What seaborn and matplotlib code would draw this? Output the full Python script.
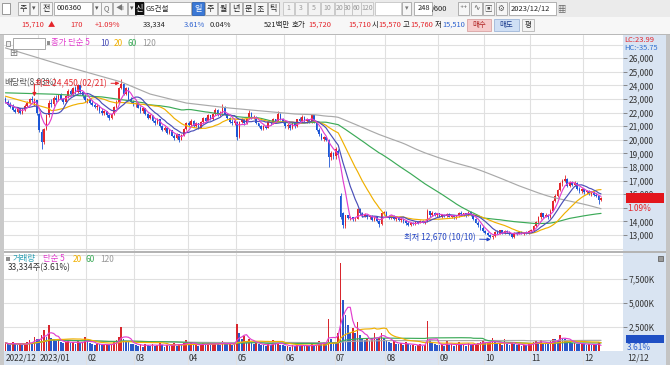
import numpy as np
import pandas as pd
import matplotlib
matplotlib.use("Agg")
import matplotlib.pyplot as plt
from matplotlib.patches import Rectangle
import seaborn as sns

sns.set_theme(style="white")
plt.rcParams['font.family'] = ['Noto Sans CJK KR', 'DejaVu Sans']
plt.rcParams['axes.unicode_minus'] = False

# ---------------- data ----------------
start_date = "2022-12-12"
end_date = "2023-12-12"
krx_holidays = ["2022-12-30", "2023-01-23", "2023-01-24", "2023-03-01", "2023-05-01",
                "2023-05-05", "2023-05-29", "2023-06-06", "2023-08-15", "2023-09-28",
                "2023-09-29", "2023-10-02", "2023-10-03", "2023-10-09"]
ex_div_date = "2022-12-28"

opens = (
    [23000,22750,22600,22400,22200,22050,22300,22000,22200,22500,22700,23000,22600,22900] +
    [21900,20600,19850,20800,21800,22700,22600,23100,22900,23300,23000,22750,23200,23600,23350,23800,23500,24000,23500,23200] +
    [22900,23000,22700,22550,22400,22500,22100,21950,22100,21800,21600,21900,22400,22800,23800,24100,23400,23800,23000,22800] +
    [22600,22700,22350,22100,22300,21900,21600,21800,21350,21200,21500,21000,20750,20900,20500,20700,20300,20100,20400,20000,20350,20800] +
    [21200,21050,21400,21000,21200,20900,21300,21600,21400,21800,21500,21900,22200,21800,22000,22400,21900,21600,21300,21200] +
    [21300,20200,21300,21500,21200,21600,22000,21600,21700,21200,21000,20800,21000,20900,21300,21200,21500,21400,21900,21500] +
    [21300,21000,21100,20850,21200,21000,21500,21400,21700,21400,21500,21300,21800,21250,20700,20400,20050,20200,20000,18700,19000] +
    [18800,19200,15900,14600,13650,14450,14250,14300,14150,14200,14900,14600,14400,14500,14300,14400,14100,14300,14000,13800,14600] +
    [14700,14400,14300,14400,14200,14300,14100,14200,14000,13850,13750,13900,13800,13950,13900,14050,13950,14000,14750,14450,14650,14500] +
    [14600,14350,14450,14400,14550,14350,14450,14300,14400,14650,14550,14600,14450,14700,14450,14150,13900,13700,13500] +
    [13300,13150,13000,12850,12900,13200,13100,13350,13150,13300,13200,13050,12850,13150,13100,13250,13100,13200,13150] +
    [13300,13350,13650,13950,14300,14600,14350,14500,14300,14800,15500,15900,16300,16800,16950,17100,16600,16900,16700,16850,16400,16200] +
    [16350,16150,16250,16050,16100,15950,15900,15570]
)
highs = (
    [23150,22900,22800,22600,22350,22400,22350,22300,22600,22850,23100,23200,23100,22950] +
    [22000,20800,20900,21900,22900,23000,23200,23300,23400,23450,23100,23300,23700,23750,23900,23950,24100,24050,23600,23400] +
    [23100,23050,22900,22700,22600,22550,22300,22200,22150,21900,22000,22450,22900,23900,24450,24200,23900,23850,23150,22950] +
    [22800,22750,22500,22400,22350,22000,21900,21850,21500,21600,21550,21100,21000,20950,20800,20750,20400,20500,20450,20450,20900,21300] +
    [21350,21500,21450,21300,21250,21400,21700,21650,21900,21850,22000,22300,22250,22100,22600,22450,21950,21700,21500,21500] +
    [21350,21400,21600,21550,21700,22200,22050,21800,21750,21250,21100,21100,21050,21350,21350,21600,21550,22100,21950,21600] +
    [21400,21200,21150,21300,21250,21550,21700,21800,21750,21600,21550,21900,21850,21300,20900,20500,20300,20300,20050,19200,19100] +
    [19500,19300,16100,14700,14500,14500,14400,14350,14300,15000,14950,14700,14600,14550,14450,14450,14400,14350,14100,14700,14800] +
    [14750,14500,14450,14450,14350,14350,14250,14250,14100,14000,13950,13950,14000,14050,14100,14100,14050,14900,14800,14750,14700,14650] +
    [14650,14500,14550,14600,14600,14500,14500,14450,14700,14800,14650,14650,14750,14750,14500,14250,14000,13800,13650] +
    [13400,13250,13100,13000,13300,13350,13400,13400,13350,13400,13300,13150,13200,13250,13300,13300,13250,13300,13350] +
    [13450,13700,14050,14400,14700,14650,14600,14550,14900,15600,16000,16400,16900,17100,17400,17200,17000,17000,16950,16900,16500,16450] +
    [16400,16300,16300,16200,16200,16100,15950,15760]
)
lows = (
    [22700,22450,22300,22100,21950,21950,21900,21900,22150,22400,22600,22800,22500,21800] +
    [20600,19350,19700,20700,21700,22400,22500,22800,22850,22900,22600,22700,23100,23250,23300,23400,23450,23400,23100,22800] +
    [22700,22600,22500,22300,22200,22000,21850,21800,21700,21450,21550,21850,22300,22700,23700,23300,23300,22900,22700,22500] +
    [22400,22300,22000,22000,21800,21500,21500,21300,21100,21150,20950,20650,20650,20450,20400,20250,20000,20050,19850,19950,20300,20750] +
    [20950,21000,20950,20950,20800,20850,21250,21300,21350,21450,21450,21850,21750,21750,21950,21850,21500,21250,21100,21100] +
    [19950,20150,21200,21100,21150,21550,21550,21500,21150,20950,20700,20750,20800,20850,21100,21150,21300,21350,21450,21250] +
    [20900,20800,20750,20800,20900,20950,21300,21350,21300,21200,21200,21250,21200,20650,20300,19950,19900,19900,18000,18500,18600] +
    [18600,18700,14200,13500,13550,14150,14100,14050,14050,14150,14500,14300,14300,14200,14150,14050,14000,13950,13600,13750,14450] +
    [14350,14200,14150,14100,14050,14000,13950,13900,13750,13650,13650,13700,13700,13800,13850,13850,13800,13950,14350,14400,14400,14350] +
    [14300,14250,14300,14350,14300,14250,14200,14200,14350,14500,14400,14350,14400,14400,14100,13850,13600,13400,13250] +
    [13050,12900,12750,12670,12850,13050,13050,13100,13100,13150,13000,12800,12800,13000,13050,13050,13000,13100,13100] +
    [13200,13300,13600,13900,14200,14250,14300,14200,14250,14750,15400,15800,16200,16600,16900,16500,16500,16600,16600,16300,16100,16100] +
    [16050,16000,15950,15900,15850,15800,15250,15510]
)
closes = (
    [22750,22550,22400,22200,22050,22300,22000,22200,22500,22700,23000,22900,22950,21950] +
    [20700,19800,20800,21800,22700,22600,23100,22900,23300,23000,22750,23200,23600,23350,23800,23500,24000,23500,23200,22900] +
    [23000,22700,22550,22400,22500,22100,21950,22100,21800,21600,21900,22400,22800,23800,24100,23400,23800,23000,22800,22600] +
    [22700,22350,22100,22300,21900,21600,21800,21350,21200,21500,21000,20750,20900,20500,20700,20300,20100,20400,20000,20350,20800,21200] +
    [21050,21400,21000,21200,20900,21300,21600,21400,21800,21500,21900,22200,21800,22000,22400,21900,21600,21300,21200,21400] +
    [20200,21300,21500,21200,21600,22000,21600,21700,21200,21000,20800,21000,20900,21300,21200,21500,21400,21900,21500,21300] +
    [21000,21100,20850,21200,21000,21500,21400,21700,21400,21500,21300,21800,21250,20700,20400,20050,20200,20000,18700,19000,18800] +
    [19300,18900,14350,13750,14450,14250,14300,14150,14200,14900,14600,14400,14500,14300,14400,14100,14300,14000,13800,14600,14700] +
    [14400,14300,14400,14200,14300,14100,14200,14000,13850,13750,13900,13800,13950,13900,14050,13950,14000,14750,14450,14650,14500,14600] +
    [14350,14450,14400,14550,14350,14450,14300,14400,14650,14550,14600,14450,14700,14450,14150,13900,13700,13500,13300] +
    [13150,13000,12850,12900,13200,13100,13350,13150,13300,13200,13050,12850,13150,13100,13250,13100,13200,13150,13300] +
    [13350,13650,13950,14300,14600,14350,14500,14300,14800,15500,15900,16300,16800,16950,17100,16600,16900,16700,16850,16400,16200,16350] +
    [16150,16250,16050,16100,15950,15900,15540,15710]
)
volumes_k = (
    [850,700,650,900,750,600,800,650,700,950,1100,800,1450,1300] +
    [1200,1650,2200,1500,2750,1400,1300,1000,1150,900,800,950,1050,850,900,750,1000,800,900,1450] +
    [1000,800,700,650,750,700,600,650,700,650,750,900,1100,1500,2450,1300,1000,900,750,700] +
    [650,500,700,450,750,600,550,700,500,650,800,600,450,650,550,700,800,500,750,600,850,1150] +
    [700,800,600,650,550,750,850,600,800,650,750,900,700,650,1000,800,700,750,650,700] +
    [2800,1900,1250,1550,1000,1250,900,750,800,700,650,600,550,700,600,1100,700,850,650,600] +
    [500,550,450,600,500,650,550,600,500,550,500,700,600,650,1040,800,900,750,3300,1200,900] +
    [800,1870,9150,5300,3750,2700,1870,2400,1900,3000,1700,1300,1100,1200,1000,1400,1900,1300,1500,1900,1400] +
    [1100,900,800,1050,750,700,800,650,900,700,600,650,550,600,700,550,600,3100,1100,800,700,650] +
    [600,750,550,1000,600,700,500,650,900,600,750,550,800,600,700,750,850,940,1000] +
    [800,850,950,1350,900,700,800,600,1250,700,650,900,750,600,700,550,650,600,700] +
    [750,900,1000,950,1100,800,750,700,1000,1250,1200,1100,1650,1400,1300,1000,900,800,850,750,700,800] +
    [700,650,750,600,700,650,923,33.334]
)
ma20_head_idx = [0, 8, 18]
ma20_head_val = [23200, 22800, 22300]
ma60_head_idx = [0, 20, 40, 58]
ma60_head_val = [23450, 23350, 23150, 22700]
ma120_head_idx = [0, 26, 48, 60, 75, 93, 115]
ma120_head_val = [26750, 25350, 24250, 23360, 22700, 22330, 21970]

price_ticks = list(range(13000, 27000, 1000))
vol_ticks_k = [2500, 5000, 7500]

# ---------------- frame ----------------
dates = pd.bdate_range(start_date, end_date)
dates = dates[~dates.isin(pd.to_datetime(krx_holidays))]
n = len(dates)
assert n == len(opens) == len(highs) == len(lows) == len(closes) == len(volumes_k) == 248
df = pd.DataFrame({"date": dates, "idx": np.arange(n), "open": opens, "high": highs,
                   "low": lows, "close": closes, "vol": volumes_k})

RED, BLUE = '#e4252b', '#1c55d6'
VRED, VBLUE = '#d8262d', '#2a57c9'
C5, C10, C20, C60, C120 = '#e23fcf', '#4a4fb8', '#f0b000', '#3caa58', '#a9a9a9'
GRID = '#e0e0e0'
PANEL = '#d9e4f2'
W, H = 670, 365
HS = 5.4   # header text size

fig = plt.figure(figsize=(6.7, 3.65), dpi=100)
fig.patch.set_facecolor('#e9e9e9')

def fr(x0, y0, x1, y1):
    return [x0 / W, 1 - y1 / H, (x1 - x0) / W, (y1 - y0) / H]

bg = fig.add_axes([0, 0, 1, 1], zorder=0)
bg.set_xlim(0, W); bg.set_ylim(H, 0); bg.axis('off')
ax_p = fig.add_axes(fr(4, 35, 623, 251), zorder=2)
ax_v = fig.add_axes(fr(4, 253, 623, 351), zorder=2)
fg = fig.add_axes([0, 0, 1, 1], zorder=5)
fg.set_xlim(0, W); fg.set_ylim(H, 0); fg.axis('off')

def rect(x0, y0, x1, y1, fc, ec='none', lw=0.6, ax=bg, z=1):
    ax.add_patch(Rectangle((x0, y0), x1 - x0, y1 - y0, facecolor=fc, edgecolor=ec,
                           linewidth=lw, zorder=z))

def txt(x, y, s, color='#222222', size=6, ha='left', ax=fg, **kw):
    return ax.text(x, y, s, color=color, fontsize=size, ha=ha, va='center', **kw)

# ---- background panels
rect(0, 0, W, 17, '#ebebeb')
rect(0, 17, W, 34, '#f7f7f7')
rect(0, 33.5, W, 35, '#b9b9b9')
rect(0, 35, 4, H, '#c9c9c9')
rect(4, 35, 623, 351, 'white')
rect(623, 35, 666, H, PANEL)
rect(4, 351, 623, H, PANEL)
rect(666, 35, W, H, '#c4c4c4')
rect(4, 251, 666, 253, '#b4b4b4')
rect(4, 350.6, 623, 351.4, '#aab6c6')
rect(622.6, 35, 623.4, H, '#aab6c6')

# ---- toolbar row 1
rect(2, 3, 10, 14, 'white', '#8a8a8a')
for (x0, x1, s) in [(18, 29, '주'), (40, 52, '전')]:
    rect(x0, 2, x1, 15, '#f6f6f6', '#a5a5a5'); txt((x0 + x1) / 2, 8.5, s, ha='center', size=5.8)
for x0 in [30, 93, 128]:
    rect(x0, 2, x0 + 8, 15, '#f6f6f6', '#a5a5a5'); txt(x0 + 4, 8.5, '▾', ha='center', size=5, color='#555')
rect(54, 2, 92, 15, 'white', '#a5a5a5'); txt(57, 8.5, '006360', size=HS)
rect(101, 2, 112, 15, '#f6f6f6', '#a5a5a5'); txt(106.5, 8.5, 'Q', ha='center', color='#666', size=HS)
rect(113, 2, 127, 15, '#f6f6f6', '#a5a5a5'); txt(120, 8.5, '◀ı', ha='center', color='#777', size=5)
rect(135, 2, 144, 15, '#111111'); txt(139.5, 8.5, '신', ha='center', color='white', size=5.8)
rect(144, 2, 191, 15, 'white', '#a5a5a5'); txt(146, 8.5, 'GS건설', size=HS)
rect(192, 2, 204, 15, '#3a78d6', '#2b5fb0'); txt(198, 8.5, '일', ha='center', color='white', size=5.8)
for k, s in enumerate(['주', '월', '년', '분', '초', '틱']):
    x0 = 205 + k * 12.5
    rect(x0, 2, x0 + 11.5, 15, '#f6f6f6', '#a5a5a5'); txt(x0 + 5.75, 8.5, s, ha='center', size=5.8)
for (x0, x1, s) in [(283, 294, '1'), (295, 307, '3'), (308, 320, '5'), (321, 334, '10'),
                    (335, 344, '20'), (344, 352, '30'), (352, 361, '60'), (361, 373, '120')]:
    rect(x0, 2, x1, 15, '#f3f3f3', '#c4c4c4'); txt((x0 + x1) / 2, 8.5, s, ha='center', color='#9a9a9a', size=5)
rect(375, 2, 401, 15, 'white', '#c4c4c4')
rect(402, 2, 411, 15, '#f6f6f6', '#a5a5a5'); txt(406.5, 8.5, '▾', ha='center', size=5, color='#777')
rect(414, 2, 432, 15, 'white', '#a5a5a5'); txt(430.5, 8.5, '248', ha='right', size=HS)
txt(432, 8.5, '/600', size=HS)
for k, s in enumerate(['⁺⁺', '∿', '▣', '⚙']):
    x0 = 458 + k * 12.5
    rect(x0, 2, x0 + 11, 15, '#f6f6f6', '#a5a5a5'); txt(x0 + 5.5, 8.5, s, ha='center', color='#555', size=5.5)
rect(509, 2, 556, 15, 'white', '#a5a5a5'); txt(511, 8.5, '2023/12/12', size=HS)
txt(561, 8.5, '▦', ha='center', color='#666', size=6)

# ---- toolbar row 2
txt(21, 25, '15,710', color=RED, size=HS); txt(48, 25, '▲', color=RED, size=5.2)
txt(83, 25, '170', color=RED, ha='right', size=HS)
txt(120, 25, '+1.09%', color=RED, ha='right', size=HS)
txt(166, 25, '33,334', ha='right', size=HS)
txt(205, 25, '3.61%', color='#2f63d0', ha='right', size=HS)
txt(231, 25, '0.04%', ha='right', size=HS)
txt(290, 25, '521백만', ha='right', size=HS)
txt(292, 25, '호가', size=HS)
txt(308, 25, '15,720', color=RED, size=HS)
txt(348, 25, '15,710', color=RED, size=HS)
txt(371.5, 25, '시', size=HS); txt(378.5, 25, '15,570', color=RED, size=HS)
txt(403, 25, '고', size=HS); txt(410.5, 25, '15,760', color=RED, size=HS)
txt(435, 25, '저', size=HS); txt(442.5, 25, '15,510', color='#2f63d0', size=HS)
rect(467, 19, 491, 31, '#f6cccc', '#d9a3a3'); txt(479, 25, '매수', ha='center', color='#b02222', size=HS)
rect(494, 19, 519, 31, '#cfdff5', '#9fb6d8'); txt(506.5, 25, '매도', ha='center', color='#1f3f8f', size=HS)
rect(522, 19, 534, 31, '#f3f3f3', '#b5b5b5'); txt(528, 25, '평', ha='center', size=HS)

# ---------------- price panel ----------------
for ax in (ax_p, ax_v):
    ax.set_facecolor('white')
    for sp in ax.spines.values():
        sp.set_visible(False)

month = df['date'].dt.to_period('M')
starts = [0] + list(np.where(month.values[1:] != month.values[:-1])[0] + 1)
for s in starts[1:]:
    ax_p.axvline(s - 0.5, color=GRID, lw=0.8, zorder=0)
    ax_v.axvline(s - 0.5, ymin=-0.145, ymax=1, color=GRID, lw=0.8, zorder=0, clip_on=False)
for v in range(12000, 28000, 1000):
    ax_p.axhline(v, color=GRID, lw=0.8, zorder=0)

up = df['close'] >= df['open']
cc = np.where(up, RED, BLUE)
ax_p.vlines(df['idx'], df['low'], df['high'], colors=cc, linewidth=0.6, zorder=2)
body = (df['close'] - df['open']).to_numpy(dtype=float)
body = np.where(np.abs(body) < 60, np.where(body >= 0, 60, -60), body)
ax_p.bar(df['idx'], body, bottom=df['open'], width=0.68, color=cc, linewidth=0, zorder=2)

close_s = df['close'].astype(float)

def ma_frame(window, head_idx=None, head_val=None):
    if head_idx is None:
        comp = close_s.rolling(window, min_periods=1).mean()
        return pd.DataFrame({'idx': df['idx'], 'value': comp})
    comp = close_s.rolling(window).mean()
    tail = pd.DataFrame({'idx': df['idx'], 'value': comp}).dropna()
    head = pd.DataFrame({'idx': head_idx, 'value': head_val})
    return pd.concat([head, tail], ignore_index=True)

for frame, col in [(ma_frame(120, ma120_head_idx, ma120_head_val), C120),
                   (ma_frame(60, ma60_head_idx, ma60_head_val), C60),
                   (ma_frame(20, ma20_head_idx, ma20_head_val), C20),
                   (ma_frame(10), C10),
                   (ma_frame(5), C5)]:
    sns.lineplot(data=frame, x='idx', y='value', ax=ax_p, color=col, linewidth=0.85,
                 estimator=None, zorder=3, legend=False)

xl = (-0.6, n - 0.5 + 8.6)
ax_p.set_xlim(xl)
ax_p.set_ylim(11824, 27700)
ax_p.set_xticks([])
ax_p.yaxis.tick_right()
ax_p.set_yticks(price_ticks)
last_close = df['close'].iloc[-1]
# the label hidden under the "1.09%" change tag in the right panel is left blank
ax_p.set_yticklabels(['' if 500 < last_close - v < 1000 else f"{v:,}" for v in price_ticks])
ax_p.tick_params(axis='y', length=3, width=0.6, color='#777777', pad=1, labelsize=6,
                 labelcolor='#333333', direction='out')
ax_p.set_xlabel(''); ax_p.set_ylabel('')

# annotations
ih = int(np.argmax(df['high'])); hmax = int(df['high'][ih])
ax_p.annotate(f"최고 {hmax:,} ({df['date'][ih]:%m/%d})", xy=(ih - 0.7, hmax - 300),
              xytext=(-9, 0), textcoords='offset points', ha='right', va='center',
              fontsize=6, color=RED, zorder=6,
              arrowprops=dict(arrowstyle='-|>', color=RED, lw=0.7, mutation_scale=5,
                              shrinkA=0.5, shrinkB=0))
il = int(np.argmin(df['low'])); lmin = int(df['low'][il])
ax_p.annotate(f"최저 {lmin:,} ({df['date'][il]:%m/%d})", xy=(il - 0.7, lmin),
              xytext=(-11, 1), textcoords='offset points', ha='right', va='center',
              fontsize=6, color='#2546c4', zorder=6,
              arrowprops=dict(arrowstyle='-|>', color='#2546c4', lw=0.7, mutation_scale=5,
                              shrinkA=0.5, shrinkB=0))
ie = int(np.where(df['date'] == pd.Timestamp(ex_div_date))[0][0])
ax_p.annotate('', xy=(ie, df['high'][ie] + 80), xytext=(0, 9), textcoords='offset points',
              arrowprops=dict(arrowstyle='-|>', color=RED, lw=0.8, mutation_scale=5,
                              shrinkA=0, shrinkB=0), zorder=5)
ax_p.annotate('배당락(8.03%)', xy=(ie, df['high'][ie]), xytext=(-3, 11),
              textcoords='offset points', ha='center', va='center', fontsize=6,
              color='#555555', zorder=5)

# ---------------- volume panel ----------------
vol = df['vol'].astype(float)
vc = np.where(vol.diff().fillna(1) > 0, VRED, VBLUE)
for v in [2500, 5000, 7500, 10000]:
    ax_v.axhline(v, color=GRID, lw=0.8, zorder=0)
ax_v.bar(df['idx'], vol, width=0.72, color=vc, linewidth=0, zorder=2)
for w, col in [(120, C120), (60, C60), (20, C20), (5, C5)]:
    fv = pd.DataFrame({'idx': df['idx'], 'value': vol.rolling(w, min_periods=1).mean()})
    sns.lineplot(data=fv, x='idx', y='value', ax=ax_v, color=col, linewidth=0.85,
                 estimator=None, zorder=3, legend=False)
ax_v.set_xlim(xl)
ax_v.set_ylim(0, 10210)
ax_v.set_xticks([])
ax_v.yaxis.tick_right()
ax_v.set_yticks(vol_ticks_k)
ax_v.set_yticklabels([f"{v:,}K" for v in vol_ticks_k])
ax_v.tick_params(axis='y', length=3, width=0.6, color='#777777', pad=1, labelsize=6,
                 labelcolor='#333333', direction='out')
ax_v.set_xlabel(''); ax_v.set_ylabel('')

for s in starts:
    d = df['date'][s]
    lab = f"{d.year}/{d.month:02d}" if (s == 0 or d.month == 1) else f"{d.month:02d}"
    ax_v.text(s - 0.5 + 0.6, -0.072, lab, transform=ax_v.get_xaxis_transform(),
              ha='left', va='center', fontsize=6, color='#333333')

# ---------------- legends & right-panel labels ----------------
rect(5.5, 40.5, 10, 45.5, '#eeeeee', '#8a8a8a', ax=fg, z=5)
rect(12.5, 37.5, 45, 48.5, 'white', '#9a9a9a', ax=fg, z=5)
txt(14.5, 43, 'GS건설', color='#333333', size=5.5)
rect(46.5, 41.2, 49.5, 44.8, '#8f8f8f', ax=fg, z=5)
txt(51, 43, '종가 단순 5', color=C5)
txt(100, 43, '10', color=C10)
txt(114, 43, '20', color=C20)
txt(127, 43, '60', color=C60)
txt(142, 43, '120', color='#999999')
txt(13.5, 53.5, '⊞', color='#777777', size=7, ha='center', family='DejaVu Sans')

rect(5.5, 257, 9.5, 261, '#8f8f8f', ax=fg, z=5)
txt(13, 259, '거래량', color='#2aa0b4')
txt(43, 259, '단순 5', color=C5)
txt(73, 259, '20', color=C20)
txt(86, 259, '60', color=C60)
txt(100, 259, '120', color='#999999')
txt(8, 268, '33,334주(3.61%)', color='#333333')

txt(624, 40.3, 'LC:23.99', color=RED, size=5.4)
txt(624, 48.3, 'HC:-35.75', color='#2f6fd0', size=5.4)

y_last = H - ax_p.transData.transform((0, last_close))[1]
rect(626, y_last - 5, 664, y_last + 5, '#e3161c', ax=fg, z=6)
txt(628, y_last, f"{last_close:,}", color='white', size=6)
txt(627, y_last + 10, '1.09%', color=RED, size=6)
rect(626, 335, 664, 342.5, '#1f4fc4', ax=fg, z=6)
txt(628, 338.7, '33,334', color='white', size=6)
txt(627, 347.5, '3.61%', color='#2f63d0', size=6)
rect(657.5, 255.5, 662.5, 260.5, '#9a9a9a', '#666666', ax=fg, z=6)
txt(627, 358, f"{df['date'].iloc[-1]:%m/%d}", color='#333333')

fig.savefig("out.png", dpi=100, facecolor=fig.get_facecolor())
